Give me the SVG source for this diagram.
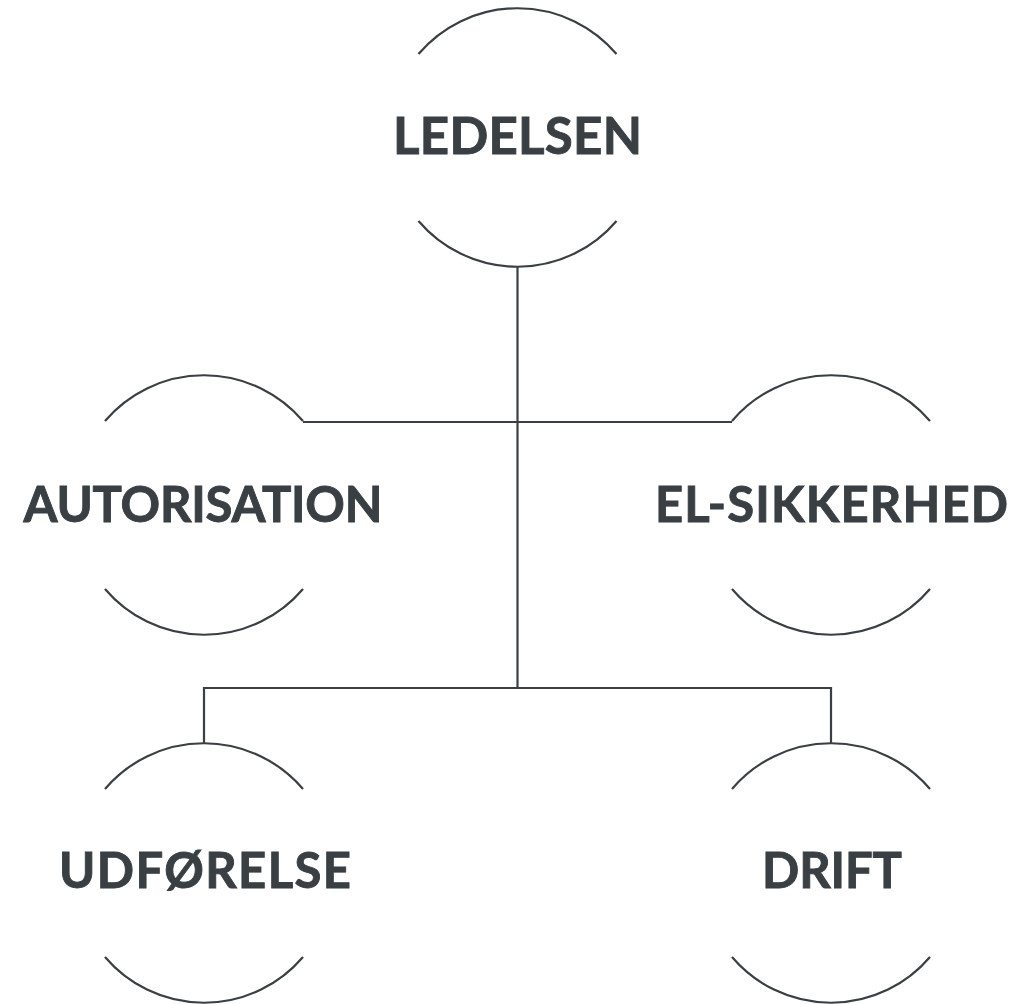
<svg xmlns="http://www.w3.org/2000/svg" width="1017" height="1004" viewBox="0 0 1017 1004">
<style>
.arc{fill:none;stroke:#393f42;stroke-width:2.2}
.con{fill:none;stroke:#393f42;stroke-width:2.2}
.lbl{font-family:Lato,"Liberation Sans",sans-serif;font-weight:bold;font-size:49px;fill:#393f42;stroke:#393f42;stroke-width:0.9;text-anchor:middle}
</style>
<rect width="1017" height="1004" fill="#ffffff"/>
<g id="connectors">
<path class="con" d="M517.5 267 V688"/>
<path class="con" d="M303 422 H732"/>
<path class="con" d="M204 743 V688 H831 V743"/>
</g>
<g id="ledelsen">
<path class="arc" d="M418.5 54 A130 130 0 0 1 616.5 54"/>
<path class="arc" d="M418.5 221 A130 130 0 0 0 616.5 221"/>
<text class="lbl" x="517.5" y="154" textLength="249" style="font-size:51px">LEDELSEN</text>
</g>
<g id="autorisation">
<path class="arc" d="M105 421 A130 130 0 0 1 303 421"/>
<path class="arc" d="M105 589 A130 130 0 0 0 303 589"/>
<text class="lbl" x="203" y="522" textLength="359">AUTORISATION</text>
</g>
<g id="el-sikkerhed">
<path class="arc" d="M732 421 A130 130 0 0 1 930 421"/>
<path class="arc" d="M732 589 A130 130 0 0 0 930 589"/>
<text class="lbl" x="831.5" y="522" textLength="353">EL-SIKKERHED</text>
</g>
<g id="udforelse">
<path class="arc" d="M105 789 A130 130 0 0 1 303 789"/>
<path class="arc" d="M105 957 A130 130 0 0 0 303 957"/>
<text class="lbl" x="205" y="888" textLength="292">UDFØRELSE</text>
</g>
<g id="drift">
<path class="arc" d="M732 789 A130 130 0 0 1 930 789"/>
<path class="arc" d="M732 957 A130 130 0 0 0 930 957"/>
<text class="lbl" x="832" y="888" textLength="140">DRIFT</text>
</g>
</svg>
